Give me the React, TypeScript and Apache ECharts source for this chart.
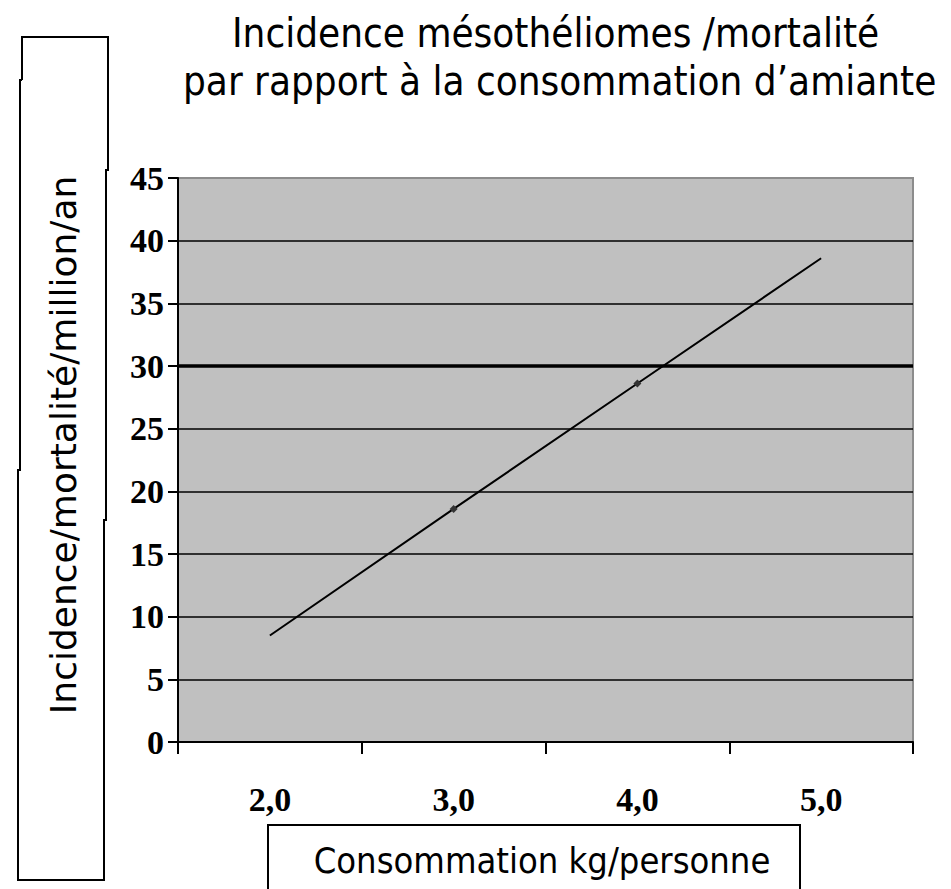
import React, { useEffect, useRef } from "react";
import * as echarts from "echarts";

const categories = ["2,0", "3,0", "4,0", "5,0"];
const incidence = [8.5, 18.6, 28.6, 38.6];
const markedPoints = [false, true, true, false];
const yTicks = [0, 5, 10, 15, 20, 25, 30, 35, 40, 45];
const titleLine1 = "Incidence mésothéliomes /mortalité";
const titleLine2 = "par rapport à la consommation d’amiante";
const yTitle = "Incidence/mortalité/million/an";
const xTitle = "Consommation kg/personne";
const highlightLevel = 30;

const titleFont = "'DejaVu Sans Condensed', 'DejaVu Sans', sans-serif";
const boxFont = "'DejaVu Sans', sans-serif";

export default function App() {
  const ref = useRef<HTMLDivElement>(null);
  useEffect(() => {
    if (!ref.current) return;
    const chart = echarts.init(ref.current, null, { renderer: "svg" });
    const splitColors = yTicks.map((v, i) => (i === yTicks.length - 1 ? "rgba(0,0,0,0)" : "#000"));
    chart.setOption({
      animation: false,
      backgroundColor: "#fff",
      grid: {
        left: 178,
        top: 178,
        width: 735,
        height: 564,
        show: true,
        backgroundColor: "#c0c0c0",
        borderColor: "#8c8c8c",
        borderWidth: 2,
      },
      xAxis: {
        type: "category",
        data: categories,
        boundaryGap: true,
        axisLine: { show: true, lineStyle: { color: "#000", width: 2 } },
        axisTick: { show: true, length: 12, lineStyle: { color: "#000", width: 2 } },
        axisLabel: {
          color: "#000",
          fontFamily: "Liberation Serif",
          fontWeight: "bold",
          fontSize: 34,
          margin: 40,
        },
        splitLine: { show: false },
      },
      yAxis: {
        type: "value",
        min: 0,
        max: 45,
        interval: 5,
        axisLine: { show: true, lineStyle: { color: "#000", width: 2 } },
        axisTick: { show: true, length: 10, lineStyle: { color: "#000", width: 2 } },
        axisLabel: {
          color: "#000",
          fontFamily: "Liberation Serif",
          fontWeight: "bold",
          fontSize: 34,
          margin: 14,
        },
        splitLine: { show: true, lineStyle: { color: splitColors, width: 1.5 } },
      },
      series: [
        {
          type: "line",
          data: incidence.map((v, i) =>
            markedPoints[i]
              ? { value: v, symbol: "diamond", symbolSize: 8 }
              : { value: v, symbol: "none" }
          ),
          lineStyle: { color: "#000", width: 2 },
          itemStyle: { color: "#333" },
          showSymbol: true,
          markLine: {
            silent: true,
            symbol: "none",
            label: { show: false },
            lineStyle: { color: "#000", width: 3.5, type: "solid" },
            data: [{ yAxis: highlightLevel }],
          },
          z: 5,
        },
      ],
      graphic: [
        {
          type: "text",
          left: 232,
          top: 13,
          style: { text: titleLine1, font: `40px ${titleFont}`, fill: "#000" },
        },
        {
          type: "text",
          left: 183,
          top: 61,
          style: { text: titleLine2, font: `40px ${titleFont}`, fill: "#000" },
        },
        {
          type: "polyline",
          shape: {
            points: [
              [22, 80], [22, 37], [108, 37], [108, 170], [106, 170], [106, 520],
              [104, 520], [104, 880], [18, 880], [18, 470], [20, 470], [20, 80], [22, 80],
            ],
          },
          style: { stroke: "#000", lineWidth: 2, fill: "none" },
        },
        {
          type: "text",
          x: 63,
          y: 445,
          rotation: Math.PI / 2,
          style: {
            text: yTitle,
            font: `36px ${boxFont}`,
            fill: "#000",
            align: "center",
            verticalAlign: "middle",
          },
        },
        {
          type: "rect",
          shape: { x: 268, y: 825, width: 532, height: 80 },
          style: { stroke: "#000", lineWidth: 2, fill: "none" },
        },
        {
          type: "text",
          x: 542,
          y: 860,
          style: {
            text: xTitle,
            font: `36px ${titleFont}`,
            fill: "#000",
            align: "center",
            verticalAlign: "middle",
          },
        },
      ],
    });
    return () => chart.dispose();
  }, []);
  return (
    <div
      ref={ref}
      style={{ position: "fixed", left: 0, top: 0, width: 951, height: 889 }}
    />
  );
}
